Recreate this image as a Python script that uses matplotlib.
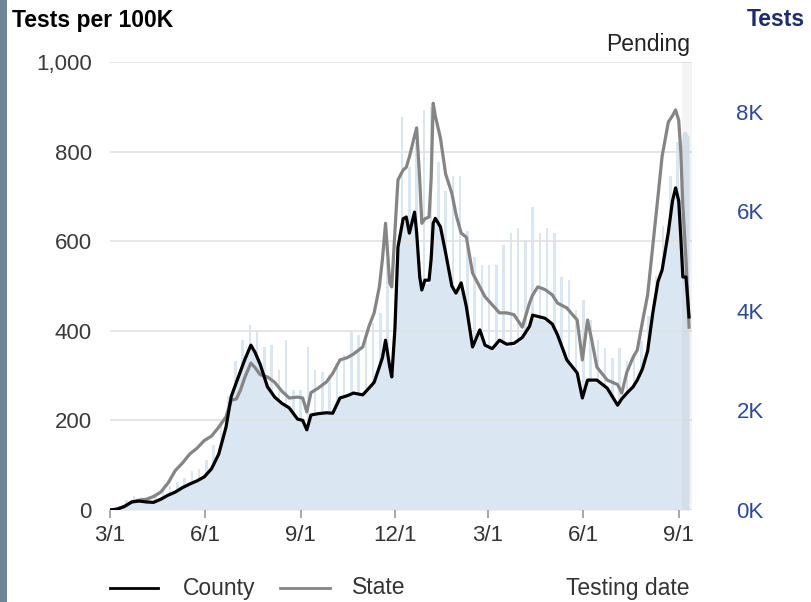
import matplotlib.pyplot as plt
import pandas as pd
from matplotlib.lines import Line2D
from matplotlib.patches import Rectangle

plt.rcParams['font.family'] = ['Liberation Sans', 'DejaVu Sans']

# 7-day average tests per 100K
dates = [
    '2020-03-01', '2020-03-08', '2020-03-15', '2020-03-22', '2020-03-29', '2020-04-05', '2020-04-12',
    '2020-04-19', '2020-04-26', '2020-05-03', '2020-05-10', '2020-05-17', '2020-05-24', '2020-05-31',
    '2020-06-07', '2020-06-14', '2020-06-21', '2020-06-26', '2020-07-01', '2020-07-05', '2020-07-09',
    '2020-07-15', '2020-07-19', '2020-07-24', '2020-07-31', '2020-08-07', '2020-08-14', '2020-08-21',
    '2020-08-29', '2020-09-03', '2020-09-07', '2020-09-11', '2020-09-18', '2020-09-26', '2020-10-02',
    '2020-10-09', '2020-10-16', '2020-10-22', '2020-10-31', '2020-11-06', '2020-11-11', '2020-11-16',
    '2020-11-19', '2020-11-22', '2020-11-26', '2020-11-28', '2020-12-01', '2020-12-04', '2020-12-09',
    '2020-12-12', '2020-12-15', '2020-12-20', '2020-12-22', '2020-12-25', '2020-12-27', '2020-12-30',
    '2021-01-03', '2021-01-05', '2021-01-07', '2021-01-09', '2021-01-14', '2021-01-19', '2021-01-25',
    '2021-01-29', '2021-02-03', '2021-02-08', '2021-02-14', '2021-02-21', '2021-02-26', '2021-03-05',
    '2021-03-12', '2021-03-19', '2021-03-26', '2021-04-03', '2021-04-10', '2021-04-13', '2021-04-18',
    '2021-04-25', '2021-05-02', '2021-05-07', '2021-05-16', '2021-05-26', '2021-05-31', '2021-06-05',
    '2021-06-09', '2021-06-14', '2021-06-24', '2021-07-04', '2021-07-08', '2021-07-13', '2021-07-19',
    '2021-07-23', '2021-07-28', '2021-08-02', '2021-08-07', '2021-08-12', '2021-08-16', '2021-08-22',
    '2021-08-26', '2021-08-29', '2021-09-01', '2021-09-03', '2021-09-05', '2021-09-08', '2021-09-11',
]
county = [
    0, 2, 8, 18, 20, 18, 17, 24, 33, 40, 50, 58, 65, 74,
    92, 125, 185, 253, 285, 310, 335, 368, 352, 325, 275, 252, 238, 228,
    203, 200, 179, 212, 215, 217, 216, 250, 255, 261, 257, 272, 285, 319,
    340, 379, 320, 297, 402, 587, 650, 654, 618, 665, 620, 520, 491, 513,
    513, 560, 640, 651, 632, 574, 500, 484, 507, 454, 364, 402, 368, 360,
    379, 370, 372, 385, 410, 435, 432, 428, 415, 391, 335, 306, 250, 290,
    290, 290, 272, 234, 248, 261, 275, 290, 315, 355, 440, 510, 536, 620,
    690, 719, 690, 610, 520, 520, 431,
]
state = [
    0, 2, 8, 18, 22, 24, 30, 40, 60, 88, 105, 125, 138, 155,
    165, 185, 208, 245, 248, 268, 295, 328, 318, 302, 297, 285, 265, 250,
    252, 250, 219, 262, 272, 286, 305, 335, 340, 348, 364, 410, 440, 498,
    560, 640, 507, 498, 620, 737, 759, 765, 788, 835, 853, 737, 640, 650,
    654, 737, 908, 880, 830, 750, 707, 660, 618, 609, 529, 498, 476, 458,
    440, 440, 436, 408, 462, 480, 498, 492, 480, 462, 451, 424, 335, 424,
    380, 319, 290, 280, 261, 308, 341, 357, 420, 480, 590, 700, 790, 866,
    880, 893, 870, 800, 680, 560, 408,
]
# typical daily tests (right axis), same dates
tests = [
    0, 15, 65, 155, 175, 160, 150, 210, 290, 355, 440, 515, 575, 655,
    815, 1110, 1640, 2250, 2530, 2750, 2980, 3270, 3130, 2890, 2440, 2240, 2110, 2020,
    1800, 1780, 1590, 1880, 1910, 1930, 1920, 2220, 2260, 2320, 2280, 2410, 2530, 2830,
    3020, 3360, 2840, 2640, 3570, 5210, 5770, 5810, 5490, 5900, 5500, 4620, 4360, 4550,
    4550, 4970, 5680, 5780, 5610, 5100, 4440, 4300, 4500, 4030, 3230, 3570, 3270, 3200,
    3360, 3280, 3300, 3420, 3640, 3860, 3840, 3800, 3690, 3470, 2970, 2720, 2220, 2570,
    2570, 2570, 2410, 2080, 2200, 2320, 2440, 2570, 2800, 3150, 3910, 4530, 4760, 5500,
    6120, 6380, 6300, 7300, 7600, 7600, 7500,
]
# weekly peak-day tests (the thin bars sticking out), one per week
spike_start = '2020-03-03'
spike_tests = [
    40, 80, 200, 280, 260, 250, 300, 400, 480, 560, 650, 780, 820, 1000,
    1300, 1750, 2300, 3000, 3420, 3720, 3580, 3280, 3320, 2815, 3420, 2410, 2410, 3280,
    2815, 2775, 2715, 2875, 3115, 3580, 3520, 3580, 3760, 3960, 5000, 4200, 7900, 6900,
    7400, 8040, 8100, 7000, 6400, 6700, 6700, 5600, 5085, 4925, 4925, 4925, 5325, 5570,
    5670, 5430, 6090, 5570, 5670, 5570, 4680, 4620, 4020, 4220, 3820, 3420, 3260, 3055,
    3260, 3000, 3150, 3400, 3900, 4700, 5700, 6700, 7400, 7600,
]

tick_dates = ['2020-03-01', '2020-06-01', '2020-09-01', '2020-12-01', '2021-03-01', '2021-06-01', '2021-09-01']
tick_labels = ['3/1', '6/1', '9/1', '12/1', '3/1', '6/1', '9/1']
left_ticks = [0, 200, 400, 600, 800, 1000]
left_labels = ['0', '200', '400', '600', '800', '1,000']
right_ticks = [0, 2000, 4000, 6000, 8000]
right_labels = ['0K', '2K', '4K', '6K', '8K']
pending_start = '2021-09-04'
x_start = '2020-03-01'
x_end = '2021-09-13 20:00'

d = pd.to_datetime(dates)
sd = pd.date_range(spike_start, periods=len(spike_tests), freq='7D')
bar_color = '#dbe6f3'

fig = plt.figure(figsize=(8.11, 6.02), dpi=100)
ax = fig.add_axes([110 / 811, 92 / 602, 582 / 811, 448 / 602])
ax2 = ax.twinx()

ax2.fill_between(d, 0, tests, color=bar_color, lw=0)
ax2.bar(sd, spike_tests, width=2.4, color=bar_color, lw=0)
ax2.set_ylim(0, 9000)

ax.set_zorder(ax2.get_zorder() + 1)
ax.patch.set_visible(False)

ax.axvspan(pd.Timestamp(pending_start), pd.Timestamp(x_end), color='#999999', alpha=0.1, lw=0, zorder=1)
ax.plot(d, state, color='#858585', lw=2.3, zorder=3)
ax.plot(d, county, color='black', lw=2.3, zorder=4)

ax.set_xlim(pd.Timestamp(x_start), pd.Timestamp(x_end))
ax.set_ylim(0, 1000)
ax.set_yticks(left_ticks)
ax.set_yticklabels(left_labels)
ax.set_xticks(pd.to_datetime(tick_dates))
ax.set_xticklabels(tick_labels)
ax.grid(axis='y', color='#e2e2e2', lw=1.2, zorder=0)
ax.set_axisbelow(True)

for a in (ax, ax2):
    for s in a.spines.values():
        s.set_visible(False)

ax.tick_params(axis='y', length=0, pad=13, labelsize=16, labelcolor='#3a3a3a')
ax.tick_params(axis='x', length=6, width=1.2, color='#999999', pad=5, labelsize=16, labelcolor='#333333')
ax2.set_yticks(right_ticks)
ax2.set_yticklabels(right_labels)
ax2.tick_params(axis='y', length=0, pad=32, labelsize=16, labelcolor='#2c4a9a')

fig.text(12 / 811, 1 - 20 / 602, 'Tests per 100K', fontsize=16.5, fontweight='bold', ha='left', va='center', color='black')
fig.text(805 / 811, 1 - 20 / 602, 'Tests', fontsize=16.5, fontweight='bold', ha='right', va='center', color='#1f2c6b')
fig.text(690 / 811, 1 - 45 / 602, 'Pending', fontsize=16.5, ha='right', va='center', color='#222222')

# legend row
ly = 1 - 588 / 602
fig.add_artist(Line2D([110 / 811, 158 / 811], [ly, ly], transform=fig.transFigure, color='black', lw=2))
fig.text(183 / 811, ly, 'County', fontsize=16.5, ha='left', va='center', color='#333333')
fig.add_artist(Line2D([280 / 811, 330 / 811], [ly, ly], transform=fig.transFigure, color='#858585', lw=2))
fig.text(352 / 811, ly, 'State', fontsize=16.5, ha='left', va='center', color='#333333')
fig.text(690 / 811, ly, 'Testing date', fontsize=16.5, ha='right', va='center', color='#333333')

# dark strip along the left edge
fig.add_artist(Rectangle((0, 0), 7 / 811, 1, transform=fig.transFigure, color='#6d8499', lw=0))

fig.savefig('out.png', dpi=100)
